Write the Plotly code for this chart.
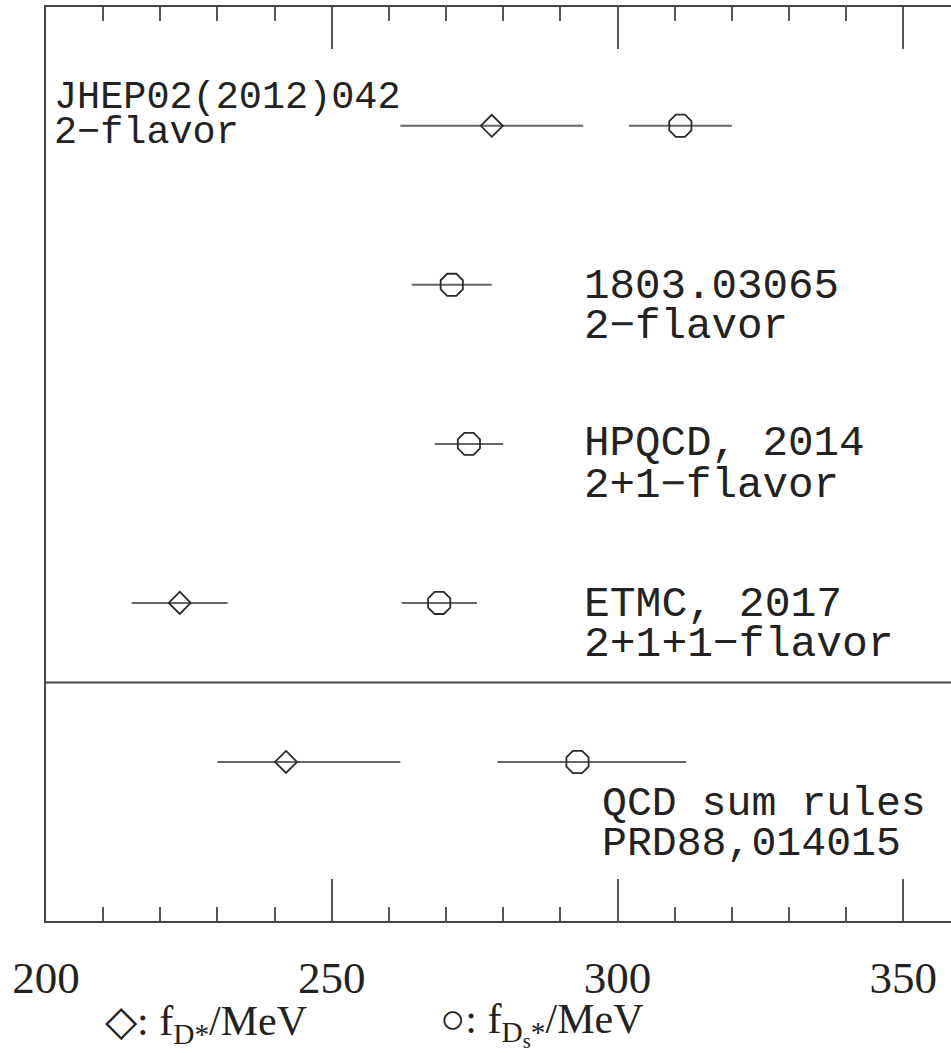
import plotly.graph_objects as go

# ---- data ----
row_names = ["JHEP02(2012)042", "1803.03065", "HPQCD, 2014", "ETMC, 2017", "QCD sum rules"]
row_sub = ["2−flavor", "2−flavor", "2+1−flavor", "2+1+1−flavor", "PRD88,014015"]

fD_val = [278, None, None, 223.4, 242]
fD_minus = [16, None, None, 8.4, 12]
fD_plus = [16, None, None, 8.4, 20]

fDs_val = [311, 271, 274, 268.8, 293]
fDs_minus = [9, 7, 6, 6.6, 14]
fDs_plus = [9, 7, 6, 6.6, 19]

x_ticks = [200, 250, 300, 350]

n = len(row_names)
ypos = [n - i for i in range(n)]

fig = go.Figure()

def add_series(vals, mins, plus, symbol, size):
    xs, ys, em, ep = [], [], [], []
    for v, m, p, y in zip(vals, mins, plus, ypos):
        if v is None:
            continue
        xs.append(v); ys.append(y); em.append(m); ep.append(p)
    fig.add_trace(go.Scatter(
        x=xs, y=ys, mode="markers",
        marker=dict(symbol=symbol, size=size, color="#2a2a2a",
                    line=dict(color="#2a2a2a", width=1.8)),
        error_x=dict(type="data", symmetric=False, array=ep, arrayminus=em,
                     color="#666666", thickness=2, width=0),
        showlegend=False, cliponaxis=False,
    ))

add_series(fD_val, fD_minus, fD_plus, "diamond-open", 17)
add_series(fDs_val, fDs_minus, fDs_plus, "octagon-open", 24)

W, H = 951, 1053
ml, mr, mt, mb = 46, 0, 7, 132
px_per = 5.715
xmax = 200 + (W - ml - mr) / px_per

fig.update_xaxes(
    range=[200, xmax], tickmode="array", tickvals=x_ticks,
    ticktext=[str(t) for t in x_ticks],
    ticks="inside", ticklen=42, tickwidth=2, tickcolor="#555555",
    minor=dict(dtick=10, tick0=200, ticks="inside", ticklen=14,
               tickwidth=2, tickcolor="#555555", showgrid=False),
    showline=True, linecolor="#444444", linewidth=2, mirror="ticks",
    showgrid=False, zeroline=False,
    tickfont=dict(family="Liberation Serif", size=45, color="#222222"),
    ticklabelstandoff=16,
)
fig.update_yaxes(
    range=[0, 5.747], showticklabels=False, ticks="", showgrid=False,
    zeroline=False, showline=True, linecolor="#444444", linewidth=2,
    mirror=False,
)

# separator between lattice and sum-rule results
fig.add_shape(type="line", xref="paper", yref="y", x0=0, x1=1, y0=1.5, y1=1.5,
              line=dict(color="#444444", width=2))

plot_h = H - mt - mb

def py_to_paper(py):
    return (H - mb - py) / plot_h

def px_to_paper(px):
    return (px - ml) / (W - ml - mr)

# label placements (pixel positions of the text lines) and sizes
label_x = [52, 582, 582, 582, 600]
label_y1 = [98, 287, 444, 604, 803]
label_y2 = [133, 327, 486, 644, 843]
label_size = [38.5, 42.5, 42.5, 43, 41.5]
for i in range(n):
    f = dict(family="Liberation Mono", size=label_size[i], color="#222222")
    fig.add_annotation(text=row_names[i], xref="paper", yref="paper",
                       x=px_to_paper(label_x[i]), y=py_to_paper(label_y1[i]),
                       xanchor="left", yanchor="middle", showarrow=False,
                       font=f)
    fig.add_annotation(text=row_sub[i], xref="paper", yref="paper",
                       x=px_to_paper(label_x[i]), y=py_to_paper(label_y2[i]),
                       xanchor="left", yanchor="middle", showarrow=False,
                       font=f)

title_font = dict(family="Liberation Serif", size=42, color="#222222")
fig.add_annotation(text="◇: f<sub>D*</sub>/MeV", xref="paper", yref="paper",
                   x=px_to_paper(103), y=py_to_paper(1024), xanchor="left",
                   yanchor="middle", showarrow=False, font=title_font)
fig.add_annotation(text="○: f<sub>D<sub>s</sub>*</sub>/MeV", xref="paper", yref="paper",
                   x=px_to_paper(438), y=py_to_paper(1024), xanchor="left",
                   yanchor="middle", showarrow=False, font=title_font)

fig.update_layout(
    width=W, height=H,
    margin=dict(l=ml, r=mr, t=mt, b=mb, pad=0),
    plot_bgcolor="white", paper_bgcolor="white",
)

fig.write_html("out.html")
